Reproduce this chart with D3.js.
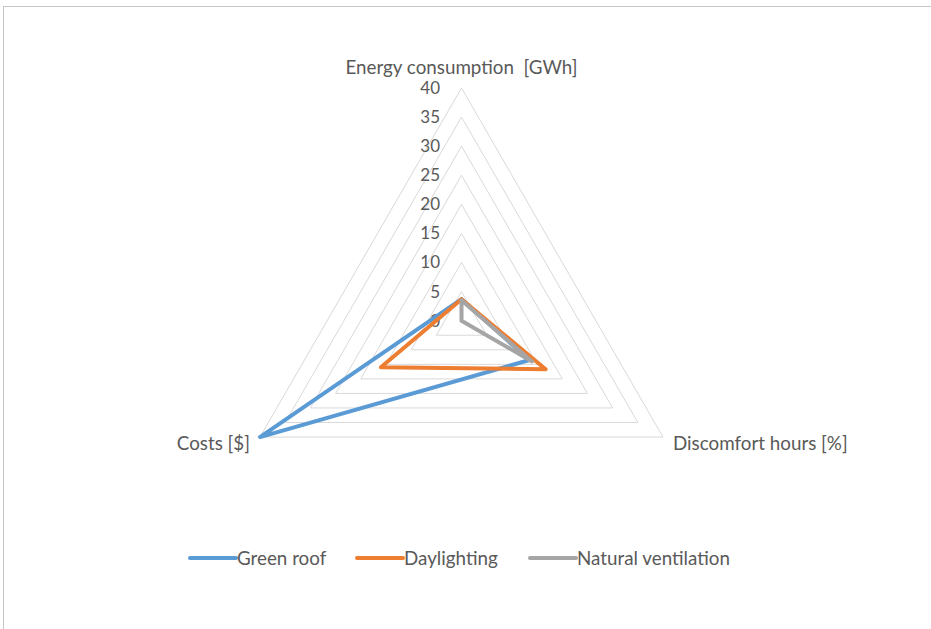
<!DOCTYPE html>
<html><head><meta charset="utf-8">
<script src="https://cdn.jsdelivr.net/npm/d3@7"></script>
<style>body{margin:0;background:#fff;} svg{display:block;} text{white-space:pre;}</style>
</head><body>
<svg id="chart" width="931" height="629"></svg>
<script>
const axesLabels = ["Energy consumption  [GWh]", "Discomfort hours [%]", "Costs [$]"];
const seriesNames = ["Green roof", "Daylighting", "Natural ventilation"];
const greenRoof = [3.7, 13.5, 40];
const daylighting = [3.7, 16.7, 16];
const naturalVentilation = [3.5, 14, 0];
const tickValues = [0, 5, 10, 15, 20, 25, 30, 35, 40];
const colors = ["#5B9BD5", "#ED7D31", "#A5A5A5"];

const seriesData = [greenRoof, daylighting, naturalVentilation];
const svg = d3.select("#chart");
const font = "Lato, 'Open Sans', sans-serif";
const textColor = "#595959";

// frame
svg.append("rect").attr("x", 3.5).attr("y", 6.5).attr("width", 940).attr("height", 640)
  .attr("fill", "none").attr("stroke", "#C6C6C6").attr("stroke-width", 1);

const cx = 461.5, cy = 320.7;
const r = d3.scaleLinear().domain([0, 40]).range([0, 232.7]);
const angle = i => i * 2 * Math.PI / 3;
const pt = (v, i) => [cx + r(v) * Math.sin(angle(i)), cy - r(v) * Math.cos(angle(i))];
const line = d3.line().curve(d3.curveLinearClosed);

const g = svg.append("g");
// grid rings
g.selectAll("path.ring").data(tickValues.filter(v => v > 0)).enter().append("path")
  .attr("class", "ring")
  .attr("d", v => line([0, 1, 2].map(i => pt(v, i))))
  .attr("fill", "none").attr("stroke", "#D9D9D9").attr("stroke-width", 1);

// tick labels
g.selectAll("text.tick").data(tickValues).enter().append("text")
  .attr("class", "tick")
  .attr("x", 440).attr("y", v => cy - r(v))
  .attr("dy", "0.35em").attr("text-anchor", "end")
  .attr("font-family", font).attr("font-size", 17).attr("fill", textColor)
  .text(v => v);

// series
g.selectAll("path.series").data(seriesData).enter().append("path")
  .attr("class", "series")
  .attr("d", d => line(d.map((v, i) => pt(v, i))))
  .attr("fill", "none").attr("stroke", (d, i) => colors[i])
  .attr("stroke-width", 4).attr("stroke-linejoin", "round");

// axis labels
const lab = [
  {x: cx, y: 67, anchor: "middle"},
  {x: 673, y: 443, anchor: "start"},
  {x: 250, y: 443, anchor: "end"}
];
g.selectAll("text.axis").data(axesLabels).enter().append("text")
  .attr("class", "axis")
  .attr("x", (d, i) => lab[i].x).attr("y", (d, i) => lab[i].y)
  .attr("dy", "0.35em").attr("text-anchor", (d, i) => lab[i].anchor)
  .attr("font-family", font).attr("font-size", 18.8).attr("fill", textColor)
  .text(d => d);

// legend
const legX = [190, 357, 530];
const leg = svg.append("g").selectAll("g").data(seriesNames).enter().append("g")
  .attr("transform", (d, i) => `translate(${legX[i]},558)`);
leg.append("line").attr("x1", 0).attr("x2", 46).attr("y1", 0).attr("y2", 0)
  .attr("stroke", (d, i) => colors[i]).attr("stroke-width", 4).attr("stroke-linecap", "round");
leg.append("text").attr("x", 47).attr("y", 0).attr("dy", "0.35em")
  .attr("font-family", font).attr("font-size", 18.8).attr("fill", textColor)
  .text(d => d);
</script>
</body></html>
